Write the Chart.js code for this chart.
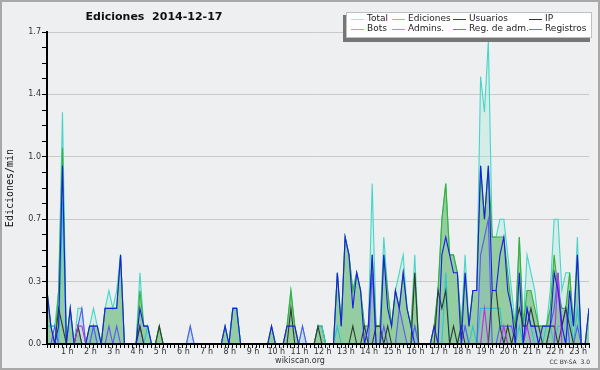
<!DOCTYPE html>
<html>
<head>
<meta charset="utf-8">
<script src="https://cdn.jsdelivr.net/npm/chart.js@4/dist/chart.umd.min.js"></script>
<style>
html,body{margin:0;padding:0;background:#eeeff1;}
#wrap{width:600px;height:370px;position:relative;}
canvas{display:block;}
</style>
</head>
<body>
<div id="wrap"><canvas id="c" width="600" height="370"></canvas></div>
<script>
// ---- tick labels ----
const hourLabels = ['1 h','2 h','3 h','4 h','5 h','6 h','7 h','8 h','9 h','10 h','11 h','12 h',
  '13 h','14 h','15 h','16 h','17 h','18 h','19 h','20 h','21 h','22 h','23 h'];
const yTickLabels = ['0.0','0.3','0.7','1.0','1.4','1.7'];
const seriesNames = ['Total','Ediciones','Usuarios','IP','Bots','Admins.','Reg. de adm.','Registros'];

// ---- series values (edits/min, one value per 10 minutes, 00:00 .. 23:20) ----
const total = [
  0.3,0.1,0.1,0.3,1.3,0,
  0.2,0,0.2,0.2,0,0.1,
  0.2,0.1,0,0.2,0.3,0.2,
  0.3,0.5,0,0,0,0,
  0.4,0.1,0.1,0,0,0.1,
  0,0,0,0,0,0,
  0,0.1,0,0,0,0,
  0,0,0,0,0.1,0,
  0.2,0.2,0,0,0,0,
  0,0,0,0,0.1,0,
  0,0,0.1,0.3,0.1,0,
  0.1,0,0,0,0.1,0.1,
  0,0,0,0.4,0.1,0.6,
  0.5,0.3,0.4,0.3,0.1,0.1,
  0.9,0.1,0.1,0.6,0.3,0.1,
  0.3,0.4,0.5,0.2,0.1,0.5,
  0,0,0,0,0.1,0.3,
  0.7,0.9,0.5,0.5,0.4,0.1,
  0.5,0.1,0.3,0.3,1.5,1.3,
  1.7,0.6,0.6,0.7,0.7,0.5,
  0.3,0.1,0.6,0.1,0.5,0.4,
  0.3,0.1,0.1,0.1,0.3,0.7,
  0.7,0.3,0.4,0.4,0.1,0.6,
  0,0,0.2
];
const ediciones = [
  0.3,0.1,0,0.3,1.1,0,
  0.2,0,0.1,0,0,0.1,
  0.1,0.1,0,0.2,0.2,0.2,
  0.2,0.5,0,0,0,0,
  0.3,0.1,0.1,0,0,0.1,
  0,0,0,0,0,0,
  0,0,0,0,0,0,
  0,0,0,0,0.1,0,
  0.2,0.2,0,0,0,0,
  0,0,0,0,0.1,0,
  0,0,0.1,0.3,0.1,0,
  0,0,0,0,0.1,0.1,
  0,0,0,0.4,0.1,0.6,
  0.5,0.3,0.4,0.3,0.1,0.1,
  0.5,0.1,0.1,0.5,0.3,0.1,
  0.3,0.2,0.4,0.2,0.1,0.4,
  0,0,0,0,0.1,0.3,
  0.7,0.9,0.5,0.5,0.4,0.1,
  0.4,0.1,0.3,0.3,1.0,0.7,
  1.0,0.6,0.6,0.6,0.6,0.4,
  0.2,0.1,0.6,0.1,0.3,0.3,
  0.2,0.1,0.1,0.1,0.2,0.5,
  0.3,0.2,0.2,0.4,0.1,0.5,
  0,0,0.2
];
const usuarios = [
  0.3,0.1,0,0.1,1.0,0,
  0.2,0,0,0,0,0.1,
  0.1,0.1,0,0.2,0.2,0.2,
  0.2,0.5,0,0,0,0,
  0.2,0.1,0.1,0,0,0,
  0,0,0,0,0,0,
  0,0,0,0,0,0,
  0,0,0,0,0.1,0,
  0.2,0.2,0,0,0,0,
  0,0,0,0,0.1,0,
  0,0,0.1,0.1,0.1,0,
  0,0,0,0,0,0,
  0,0,0,0.4,0.1,0.6,
  0.5,0.2,0.4,0.3,0,0.1,
  0.5,0,0,0.5,0.2,0.1,
  0.3,0.2,0.4,0.2,0.1,0,
  0,0,0,0,0.1,0,
  0.5,0.6,0.5,0.4,0.4,0,
  0.4,0.1,0.3,0.3,1.0,0.7,
  1.0,0.3,0.3,0.5,0.6,0.3,
  0.2,0,0.4,0,0.2,0.1,
  0.1,0,0.1,0.1,0.1,0.4,
  0.3,0.1,0,0.3,0.1,0.5,
  0,0,0.2
];
const ip = [
  0,0,0,0.2,0.1,0,
  0,0,0.1,0,0,0,
  0,0,0,0,0,0,
  0,0,0,0,0,0,
  0.1,0,0,0,0,0.1,
  0,0,0,0,0,0,
  0,0,0,0,0,0,
  0,0,0,0,0,0,
  0,0,0,0,0,0,
  0,0,0,0,0,0,
  0,0,0,0.2,0,0,
  0,0,0,0,0.1,0,
  0,0,0,0,0,0,
  0,0.1,0,0,0.1,0,
  0,0.1,0.1,0,0.1,0,
  0,0,0,0,0,0.4,
  0,0,0,0,0,0.3,
  0.2,0.3,0,0.1,0,0.1,
  0,0,0,0,0,0,
  0,0.3,0.3,0.1,0,0.1,
  0,0.1,0.2,0.1,0.1,0.2,
  0.1,0.1,0,0,0.1,0.1,
  0,0.1,0.2,0.1,0,0,
  0,0,0
];
const bots = [
  0,0,0,0,0,0, 0,0,0,0,0,0, 0,0,0,0,0,0, 0,0,0,0,0,0,
  0,0,0,0,0,0, 0,0,0,0,0,0, 0,0,0,0,0,0, 0,0,0,0,0,0,
  0,0,0,0,0,0, 0,0,0,0,0,0, 0,0,0,0,0,0, 0,0,0,0,0,0,
  0,0,0,0,0,0, 0,0,0,0,0,0, 0,0,0,0,0,0, 0,0,0,0,0,0,
  0,0,0,0,0,0, 0,0,0,0,0,0, 0,0,0,0,0,0, 0,0,0,0,0,0,
  0,0,0,0,0,0, 0,0,0,0,0,0, 0,0,0
];
const admins = [
  0.1,0.1,0.1,0,0.8,0,
  0,0,0,0,0,0,
  0.1,0,0,0,0,0,
  0,0,0,0,0,0,
  0,0,0.1,0,0,0,
  0,0,0,0,0,0,
  0,0,0,0,0,0,
  0,0,0,0,0,0,
  0.2,0.2,0,0,0,0,
  0,0,0,0,0,0,
  0,0,0,0,0,0,
  0,0,0,0,0.1,0.1,
  0,0,0,0.1,0,0,
  0,0,0,0,0,0,
  0,0,0,0,0,0,
  0,0,0,0,0,0.1,
  0,0,0,0,0,0,
  0,0.4,0,0,0,0.1,
  0.1,0,0.1,0,0.2,0.2,
  0.2,0.2,0.2,0.2,0,0,
  0,0,0.1,0,0.2,0.1,
  0,0,0,0.1,0.1,0,
  0.1,0.1,0,0.2,0,0.2,
  0,0,0
];
const regAdm = [
  0,0,0,0,0,0,
  0,0,0.1,0.1,0,0,
  0,0,0,0,0,0,
  0,0,0,0,0,0,
  0,0,0,0,0,0,
  0,0,0,0,0,0,
  0,0,0,0,0,0,
  0,0,0,0,0,0,
  0,0,0,0,0,0,
  0,0,0,0,0,0,
  0,0,0,0,0,0,
  0,0,0,0,0,0,
  0,0,0,0,0,0,
  0,0,0,0,0,0,
  0,0,0,0,0,0,
  0,0,0,0,0,0,
  0,0,0,0,0,0,
  0,0,0,0,0,0,
  0,0,0,0,0,0.2,
  0,0,0,0,0.1,0,
  0,0,0,0,0.1,0,
  0,0,0,0,0,0,
  0.4,0,0,0,0,0,
  0,0,0
];
const registros = [
  0,0,0.1,0,0,0,
  0,0,0.1,0.2,0,0,
  0.1,0,0,0,0.1,0,
  0.1,0,0,0,0,0,
  0.1,0,0,0,0,0,
  0,0,0,0,0,0,
  0,0.1,0,0,0,0,
  0,0,0,0,0,0,
  0,0,0,0,0,0,
  0,0,0,0,0,0,
  0,0,0,0,0,0,
  0.1,0,0,0,0,0,
  0,0,0,0,0,0,
  0,0,0,0,0,0,
  0.4,0,0,0.1,0,0,
  0,0.2,0.1,0,0,0.1,
  0,0,0,0,0,0,
  0,0,0,0,0,0,
  0.1,0,0,0,0.5,0.6,
  0.7,0,0,0.1,0.1,0.1,
  0.1,0,0,0,0.2,0.1,
  0.1,0,0,0,0.1,0.2,
  0.4,0.1,0.2,0,0,0.1,
  0,0,0
];

const Y_MAX = 1.75, Y_STEP = 0.0875;   // major tick every 4 minor steps
const pts = arr => arr.map((v, i) => ({x: i, y: v}));
const nPts = total.length;

function ds(label, data, color, order, extra) {
  return Object.assign({
    label, data: pts(data), borderColor: color, borderWidth: 1.1,
    pointRadius: 0, tension: 0, fill: false, order
  }, extra || {});
}

const datasets = [
  ds('Usuarios', usuarios, '#1c1ce8', 1),
  ds('Reg. de adm.', regAdm, '#c030e0', 2),
  ds('IP', ip, '#2e3a2e', 3),
  ds('Registros', registros, '#5a5af0', 4, {fill: 'origin', backgroundColor: 'rgba(120,150,240,0.15)'}),
  ds('Admins.', admins, '#2ec4d4', 5),
  ds('Ediciones', ediciones, '#38b038', 6, {fill: 'origin', backgroundColor: 'rgba(72,168,72,0.46)'}),
  ds('Total', total, '#46d6c6', 7, {fill: 'origin', backgroundColor: 'rgba(175,234,222,0.4)'}),
  ds('Bots', bots, '#f09030', 8)
];

const legendItems = [
  {label: 'Total', color: '#a0e4dc', col: 0, row: 0},
  {label: 'Ediciones', color: '#80d080', col: 1, row: 0},
  {label: 'Usuarios', color: '#3030e0', col: 2, row: 0},
  {label: 'IP', color: '#303030', col: 3, row: 0},
  {label: 'Bots', color: '#f0a040', col: 0, row: 1},
  {label: 'Admins.', color: '#48c8d8', col: 1, row: 1},
  {label: 'Reg. de adm.', color: '#c848e0', col: 2, row: 1},
  {label: 'Registros', color: '#7070f0', col: 3, row: 1}
];
const legendColX = [367, 408, 469, 545];
const legendRowY = [19, 29];

const decor = {
  id: 'decor',
  beforeDraw(chart) {
    const c = chart.ctx;
    c.save();
    c.fillStyle = '#eeeff1';
    c.fillRect(0, 0, 600, 370);
    c.restore();
  },
  afterDatasetsDraw(chart) {
    const c = chart.ctx, a = chart.chartArea;
    c.save();
    c.strokeStyle = '#000';
    c.lineWidth = 2;
    c.beginPath();
    c.moveTo(a.left - 1, a.bottom);
    c.lineTo(a.right, a.bottom);
    c.moveTo(a.left, a.bottom);
    c.lineTo(a.left, a.top);
    c.stroke();
    c.restore();
  },
  afterDraw(chart) {
    const c = chart.ctx;
    c.save();
    // outer frame
    c.strokeStyle = '#a8a8a8';
    c.lineWidth = 2;
    c.strokeRect(1, 1, 598, 368);
    // title
    c.fillStyle = '#111';
    c.font = 'bold 11px "DejaVu Sans"';
    c.textAlign = 'center';
    c.textBaseline = 'middle';
    c.fillText('Ediciones  2014-12-17', 154, 17);
    // y title
    c.save();
    c.translate(10, 188);
    c.rotate(-Math.PI / 2);
    c.font = '10px "DejaVu Sans Mono"';
    c.fillStyle = '#111';
    c.fillText('Ediciones/min', 0, 0);
    c.restore();
    // footer
    c.font = '8px "DejaVu Sans"';
    c.fillStyle = '#333';
    c.fillText('wikiscan.org', 300, 361);
    c.font = '6px "DejaVu Sans"';
    c.textAlign = 'right';
    c.fillText('CC BY-SA  3.0', 590, 362);
    // legend box
    c.fillStyle = '#767676';
    c.fillRect(343, 15, 247, 27);
    c.fillStyle = '#ffffff';
    c.fillRect(346, 12, 246, 26);
    c.strokeStyle = '#c0c0c0';
    c.lineWidth = 1;
    c.strokeRect(346.5, 12.5, 245, 25);
    c.font = '9px "DejaVu Sans"';
    c.textAlign = 'left';
    c.textBaseline = 'middle';
    legendItems.forEach(it => {
      const tx = legendColX[it.col], ty = legendRowY[it.row];
      c.strokeStyle = it.color;
      c.lineWidth = 1;
      c.beginPath();
      c.moveTo(tx - 16, ty + 0.5);
      c.lineTo(tx - 3, ty + 0.5);
      c.stroke();
      c.fillStyle = '#222';
      c.fillText(it.label, tx, ty);
    });
    c.restore();
  }
};

new Chart(document.getElementById('c'), {
  type: 'line',
  data: {datasets},
  options: {
    responsive: false,
    animation: false,
    events: [],
    layout: {padding: {left: 0, right: 11, top: 32, bottom: 6}},
    plugins: {legend: {display: false}, tooltip: {enabled: false}, title: {display: false}},
    scales: {
      x: {
        type: 'linear', min: 0, max: nPts - 1,
        afterBuildTicks: s => { s.ticks = total.map((v, i) => ({value: i})); },
        afterFit: s => { s.height = 20; },
        ticks: {
          autoSkip: false, maxRotation: 0, minRotation: 0, labelOffset: -3, padding: -1,
          color: '#333', font: {family: 'DejaVu Sans', size: 8},
          callback: (v) => (v % 6 === 0 && v > 0) ? hourLabels[v / 6 - 1] : ''
        },
        grid: {drawOnChartArea: false, color: '#000', tickLength: 4, lineWidth: 1},
        border: {color: '#000', width: 2}
      },
      y: {
        min: 0, max: Y_MAX,
        afterBuildTicks: s => {
          const t = [];
          for (let k = 0; k <= 20; k++) t.push({value: k * Y_STEP});
          s.ticks = t;
        },
        afterFit: s => { s.width = 47; },
        ticks: {
          padding: 1, color: '#333', font: {family: 'DejaVu Sans', size: 8},
          callback: (v, idx) => idx % 4 === 0 ? yTickLabels[idx / 4] : ''
        },
        grid: {
          color: ctx => (ctx.index % 4 === 0 && ctx.index > 0) ? '#c9c9c9' : 'rgba(0,0,0,0)',
          tickColor: '#000', tickLength: 5, lineWidth: 1
        },
        border: {color: '#000', width: 2}
      }
    }
  },
  plugins: [decor]
});
</script>
</body>
</html>
